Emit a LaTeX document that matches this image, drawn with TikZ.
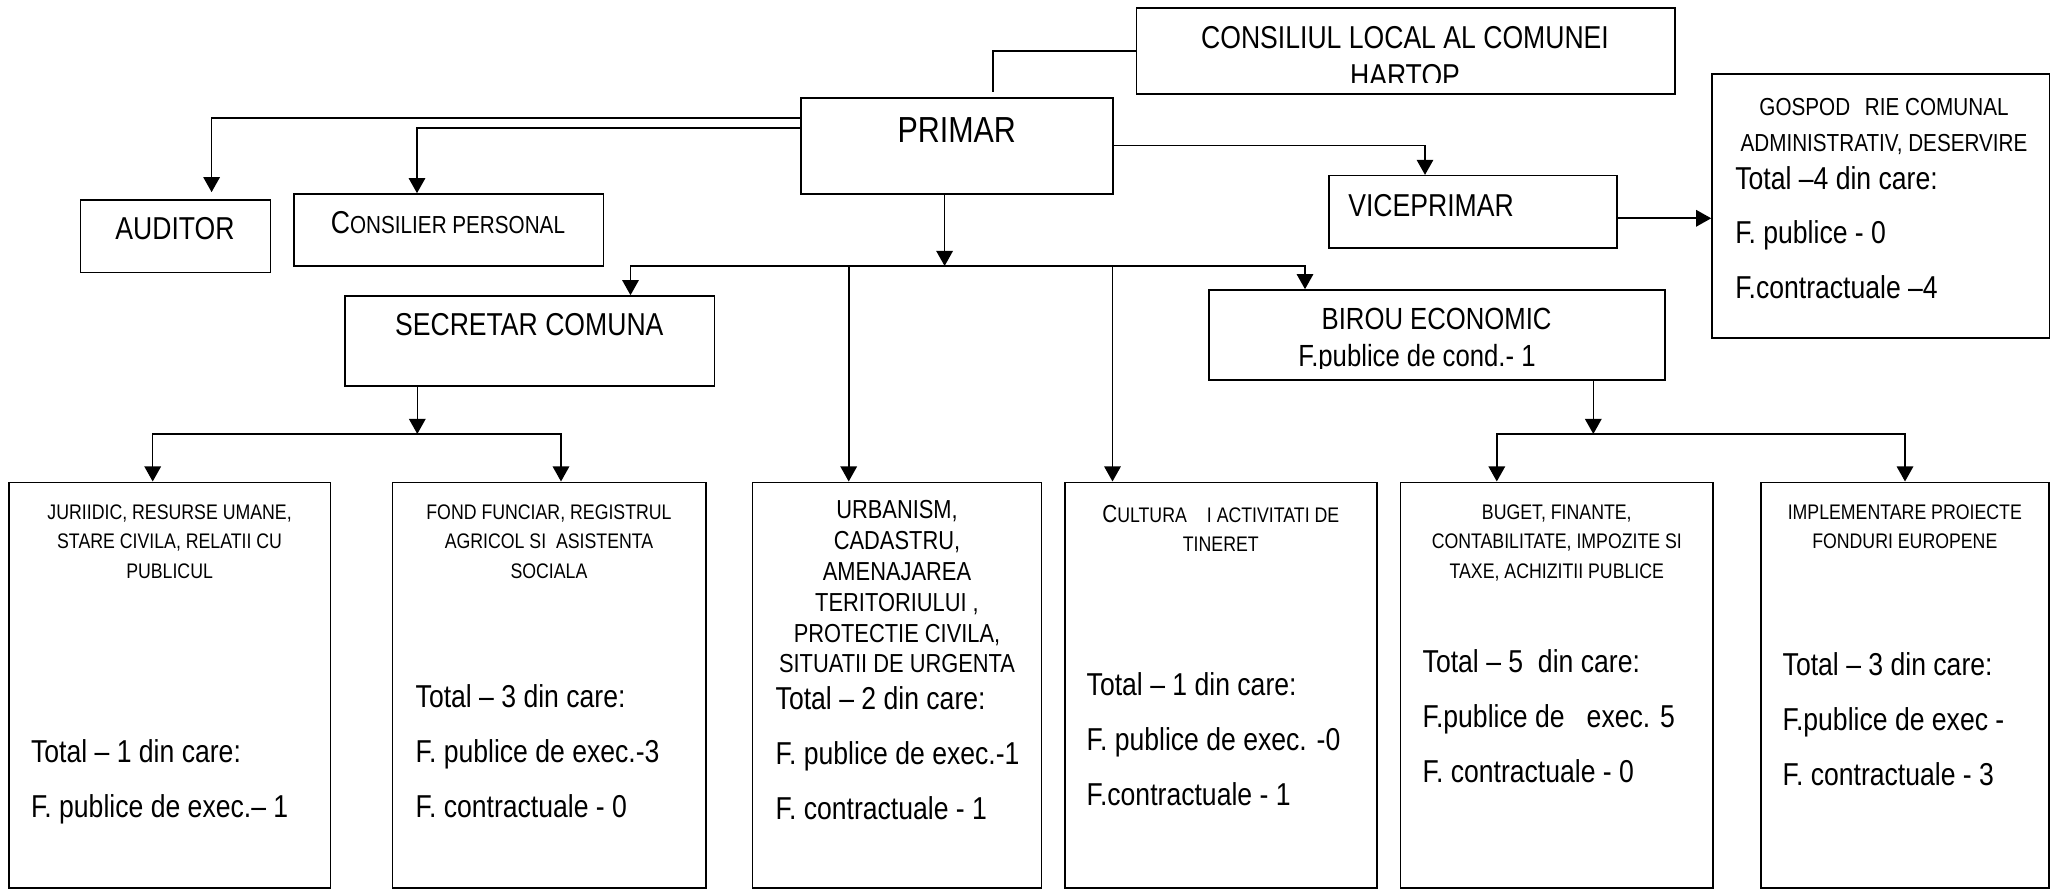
\documentclass[tikz,border=0pt]{standalone}
\usepackage{fontspec}
\setmainfont{Liberation Sans}[FakeStretch=0.84]
\usetikzlibrary{positioning,fit,arrows.meta}

\tikzset{
  box/.style={draw, line width=0.45pt, inner sep=0pt},
  link/.style={line width=0.45pt},
  arr/.style={link, -{Triangle[length=4.3pt,width=4.7pt]}},
  title/.style={inner sep=0pt, font=\fontsize{9}{10.7}\selectfont},
  hdr/.style={inner sep=0pt, anchor=north, align=center, font=\fontsize{6}{8.3}\selectfont},
  stat/.style={inner sep=0pt, anchor=north west, align=left, font=\fontsize{9}{15.6}\selectfont}
}

\begin{document}
\begin{tikzpicture}[x=0.01cm, y=-0.01cm]
\useasboundingbox (0,0) rectangle (2051,892);
%% the boxes
\node [box, fit={(1136.6,8) (1674.8,94)}] (consiliu) {};
\node [box, fit={(800.9,98) (1113,194)}] (primar) {};
\node [box, fit={(80.4,200) (270.5,272.7)}] (auditor) {};
\node [box, fit={(293.8,194) (603.6,266)}] (consilier) {};
\node [box, fit={(1329,175.7) (1617,248.3)}] (vice) {};
\node [box, fit={(1712,74) (2049.3,338.3)}] (gospod) {};
\node [box, fit={(344.9,296) (714.3,386)}] (secretar) {};
\node [box, fit={(1209,290) (1665,380)}] (birou) {};
\node [box, fit={(8.9,482.3) (330.4,888)}] (juridic) {};
\node [box, fit={(392.5,482.3) (706,888)}] (fond) {};
\node [box, fit={(752.7,482.3) (1041.5,888)}] (urban) {};
\node [box, fit={(1064.7,482.3) (1377,888)}] (cultura) {};
\node [box, fit={(1400.5,482.3) (1713,888)}] (buget) {};
\node [box, fit={(1760.8,482.3) (2049,888)}] (proiecte) {};

%% the texts
\begin{scope}
\clip (1136.6,8) rectangle (1674.8,82.7);
\node [title, anchor=north, align=center] (consiliuTxt) at (1405,25.9) {CONSILIUL LOCAL AL COMUNEI\\HARTOP};
\end{scope}
\node [title, font=\fontsize{10.3}{12}\selectfont] (primarTxt) at (956.7,130) {PRIMAR};
\node [title] (auditorTxt) at (175,228.7) {AUDITOR};
\node [title, font=\fontsize{7}{8}\selectfont] (consilierTxt) at (448,223) {{\fontsize{9}{10}\selectfont C}ONSILIER PERSONAL};
\node [title] (secretarTxt) at (529.3,324.7) {SECRETAR COMUNA};
\node [title] (viceTxt) at (1431,205.2) {VICEPRIMAR};
\node [title, font=\fontsize{8.7}{10}\selectfont] (birouTxt) at (1436.6,319.2) {BIROU ECONOMIC};
\begin{scope}
\clip (1209,330) rectangle (1665,368.5);
\node [title, font=\fontsize{8.7}{10}\selectfont, anchor=base] (birouSub) at (1417,366.7) {F.publice de cond.- 1};
\end{scope}
\node [hdr, font=\fontsize{7}{10.3}\selectfont] (gospodHdr) at (1884,97.4) {GOSPOD\hspace{4.2pt}RIE COMUNAL\\ADMINISTRATIV, DESERVIRE};
\node [stat] (gospodStat) at (1734.6,165.4) {Total –4 din care:\\F. publice - 0\\F.contractuale –4};

\node [hdr] (juridicHdr) at (169.6,504.2) {JURIIDIC, RESURSE UMANE,\\STARE CIVILA, RELATII CU\\PUBLICUL};
\node [stat] (juridicStat) at (30.4,738.7) {Total – 1 din care:\\F. publice de exec.– 1};
\node [hdr] (fondHdr) at (549,504.2) {FOND FUNCIAR, REGISTRUL\\AGRICOL SI\ \ ASISTENTA\\SOCIALA};
\node [stat] (fondStat) at (415,683.7) {Total – 3 din care:\\F. publice de exec.-3\\F. contractuale - 0};
\node [hdr, font=\fontsize{7.4}{8.8}\selectfont] (urbanHdr) at (897,499.4) {URBANISM,\\CADASTRU,\\AMENAJAREA\\TERITORIULUI ,\\PROTECTIE CIVILA,\\SITUATII DE URGENTA};
\node [stat] (urbanStat) at (775,686) {Total – 2 din care:\\F. publice de exec.-1\\F. contractuale - 1};
\node [hdr] (culturaHdr) at (1220.8,504.2) {{\fontsize{7}{8}\selectfont C}ULTURA\hspace{5.7pt}I ACTIVITATI DE\\TINERET};
\node [stat] (culturaStat) at (1086,672) {Total – 1 din care:\\F. publice de exec. -0\\F.contractuale - 1};
\node [hdr] (bugetHdr) at (1556.8,504.2) {BUGET, FINANTE,\\CONTABILITATE, IMPOZITE SI\\TAXE, ACHIZITII PUBLICE};
\node [stat] (bugetStat) at (1422,648.7) {Total – 5\ \ din care:\\F.publice de\ \ \ exec. 5\\F. contractuale - 0};
\node [hdr] (proiecteHdr) at (1904.8,504.2) {IMPLEMENTARE PROIECTE\\FONDURI EUROPENE};
\node [stat] (proiecteStat) at (1782,652) {Total – 3 din care:\\F.publice de exec -\\F. contractuale - 3};

%% drawings of lines
\coordinate (primarBus) at (944.6,266);
\coordinate (secretarBus) at (417.3,434);
\coordinate (birouBus) at (1593.3,434);

\draw [link, shorten <=1.5pt] (primar.north -| 993,0) |- (consiliu.west);
\draw [arr, shorten >=2pt] (primar.west |- 0,118.3) -| (auditor.north -| 211.6,0);
\draw [arr] (primar.west |- 0,128) -| (consilier.north -| 417,0);
\draw [arr] (primar.east |- 0,145.7) -| (vice.north -| 1425,0);
\draw [arr] (vice.east |- 0,218.3) -- (gospod.west |- 0,218.3);

\draw [arr] (primar.south -| primarBus) -- (primarBus);
\draw [arr] (primarBus) -| (secretar.north -| 630.5,0);
\draw [arr] (primarBus) -| (birou.north -| 1305,0);
\draw [arr] (primarBus -| 848.7,0) -- (urban.north -| 848.7,0);
\draw [arr] (primarBus -| 1112.5,0) -- (cultura.north -| 1112.5,0);

\draw [arr] (secretar.south -| secretarBus) -- (secretarBus);
\draw [arr] (secretarBus) -| (juridic.north -| 152.7,0);
\draw [arr] (secretarBus) -| (fond.north -| 561,0);

\draw [arr] (birou.south -| birouBus) -- (birouBus);
\draw [arr] (birouBus) -| (buget.north -| 1496.8,0);
\draw [arr] (birouBus) -| (proiecte.north -| 1905,0);
\end{tikzpicture}
\end{document}
